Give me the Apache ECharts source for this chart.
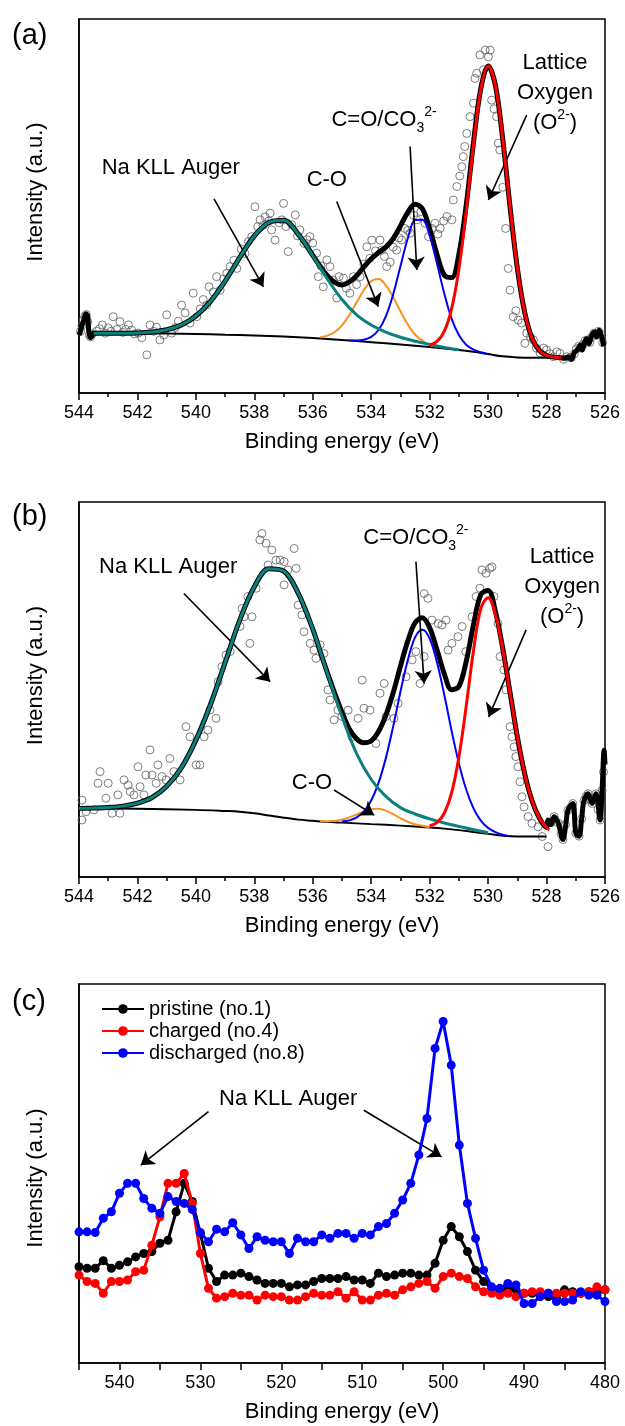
<!DOCTYPE html>
<html>
<head>
<meta charset="utf-8">
<title>XPS O 1s spectra</title>
<script src="https://cdn.jsdelivr.net/npm/echarts@6.0.0/dist/echarts.min.js"></script>
<style>
html,body{margin:0;padding:0;background:#ffffff;}
#chart{width:625px;height:1426px;}
</style>
</head>
<body>
<div id="chart"></div>
<script>
const FONT = '"Liberation Sans", Arial, Helvetica, sans-serif';

// ================= Panel (a) =================
const abTickLabels = [526, 528, 530, 532, 534, 536, 538, 540, 542, 544];

const aPoints = [
[543.95,16.5],[543.9,18.0],[543.85,19.5],[543.8,20.5],[543.75,21.0],[543.7,19.0],[543.65,15.5],[543.6,15.0],[543.55,15.8],
[543.4,16.5],[543.3,17.2],[543.2,18.2],[543.1,16.0],[543.0,17.4],[542.9,16.5],[542.83,20.4],[542.7,17.0],[542.6,19.1],[542.5,16.2],
[542.4,17.0],[542.31,18.2],[542.2,16.8],[542.1,15.8],[541.97,16.0],[541.85,14.8],[541.68,10.2],[541.57,18.2],[541.45,16.5],[541.35,17.6],
[541.23,14.2],[541.1,15.5],[541.0,20.9],[540.83,16.0],[540.7,17.5],[540.6,19.2],[540.49,23.5],[540.37,21.4],[540.2,18.7],[540.09,26.7],
[539.97,20.4],[539.85,22.5],[539.75,25.0],[539.63,23.5],[539.55,28.4],[539.4,27.0],[539.29,31.1],[539.17,27.5],[539.05,30.5],[538.94,32.0],
[538.83,33.8],[538.7,35.5],[538.6,33.3],[538.45,38.5],[538.32,37.3],[538.2,40.5],[538.09,41.8],[537.98,49.8],[537.88,44.5],[537.8,46.3],
[537.7,44.8],[537.63,47.1],[537.5,46.0],[537.46,48.1],[537.41,43.6],[537.29,40.9],[537.15,45.5],[537.06,46.3],[537.0,50.7],[536.92,44.5],
[536.84,37.8],[536.72,45.0],[536.6,47.6],[536.52,42.0],[536.44,43.6],[536.3,40.0],[536.2,41.0],[536.1,41.8],[536.0,40.1],[535.87,37.4],
[535.81,31.1],[535.72,34.0],[535.64,28.4],[535.52,35.6],[535.41,33.8],[535.3,30.2],[535.18,25.4],[535.1,31.1],[534.95,30.7],[534.85,28.0],
[534.73,26.7],[534.61,31.1],[534.5,29.0],[534.38,31.1],[534.25,34.5],[534.15,39.1],[534.05,36.0],[533.98,40.9],[533.85,38.0],[533.7,40.9],
[533.64,38.2],[533.55,36.5],[533.47,33.8],[533.35,35.0],[533.25,39.0],[533.13,38.2],[533.05,41.5],[532.96,40.9],[532.85,44.0],[532.75,43.5],
[532.67,42.7],[532.55,47.5],[532.44,46.3],[532.3,48.5],[532.16,45.4],[532.04,41.8],[531.92,44.0],[531.82,45.4],[531.72,42.5],[531.64,44.0],
[531.52,46.0],[531.41,47.2],[531.24,46.3],[531.19,51.6],[531.07,55.2],[530.97,58.0],[530.9,60.5],[530.85,63.2],[530.8,65.9],[530.73,69.4],
[530.62,73.9],[530.5,77.5],[530.45,84.1],[530.39,85.5],[530.28,90.4],[530.16,86.4],[530.1,91.7],[529.99,89.9],[529.93,91.7],[529.88,78.3],
[529.8,76.0],[529.71,73.9],[529.65,66.8],[529.6,65.0],[529.5,55.0],[529.4,44.0],[529.31,33.3],[529.25,27.5],[529.14,20.4],[529.05,22.0],
[528.97,19.5],[528.85,18.7],[528.74,13.3],[528.68,16.0],[528.55,15.0],[528.45,14.2],[528.35,12.0],[528.22,10.7],[528.1,12.0],[528.0,11.5],
[527.88,10.5],[527.77,9.7],[527.65,11.0],[527.54,10.6],[527.42,9.0],[527.31,9.7],[527.2,9.5],
[527.15,9.5],[527.05,10.5],[526.98,11.8],[526.9,12.5],[526.82,12.0],[526.75,13.0],[526.68,14.0],[526.6,14.2],[526.52,13.5],[526.45,15.0],
[526.38,16.0],[526.3,15.5],[526.22,16.5],[526.15,15.8],[526.08,13.5]
];

const aBaseline = [[543.6,16.0],[543,16.0],[542,16.0],[541,15.9],[540,15.8],[539,15.6],[538,15.4],[537,15.1],[536,14.7],[535,14.2],
[534,13.6],[533,13.0],[532,12.3],[531,11.5],[530.5,11.0],[530,10.4],[529.5,9.8],[529,9.5],[528.5,9.4],[527.5,9.4],[527.2,9.4]];

const aEnvelope = [[544,15.5],[543.95,16.5],[543.88,18.5],[543.82,20.0],[543.76,21.2],[543.7,20.5],[543.66,16.0],[543.6,14.8],[543.55,15.3],
[543.5,16.0],[543,16.0],[542.5,16.0],[542,16.05],[541.5,16.3],[541,16.9],[540.5,18.2],[540,20.6],[539.5,24.5],[539,29.9],[538.5,36.2],
[538,42.0],[537.5,45.6],[537,46.2],[536.5,42.5],[536,36.8],[535.75,33.9],[535.5,31.35],[535.25,29.6],[535,28.9],[534.75,29.7],[534.5,31.35],
[534.25,33.75],[534,35.9],[533.75,37.55],[533.5,39.0],[533.25,41.25],[533,44.65],[532.75,48.3],[532.5,50.45],[532.25,49.25],[532,43.9],
[531.75,37.05],[531.5,31.5],[531.25,30.85],[531,37.1],[530.75,50.2],[530.5,67.0],[530.25,81.4],[530,87.4],[529.75,82.2],[529.5,67.9],
[529.25,49.8],[529,33.4],[528.75,21.65],[528.5,14.7],[528.25,11.4],[528,10.05],[527.75,9.6],[527.5,9.4],[527.4,9.3],[527.25,9.6],
[527.15,9.0],[527.05,10.8],[526.95,11.5],[526.85,12.8],[526.78,11.5],[526.7,13.6],[526.62,14.5],[526.55,13.2],[526.45,15.5],[526.35,16.3],
[526.28,15.0],[526.2,16.8],[526.12,15.2],[526.05,12.5]];

const aNaKLL = [[543.5,16.0],[543,16.0],[542.5,16.0],[542,16.05],[541.5,16.3],[541,16.9],[540.5,18.2],[540,20.6],[539.5,24.5],[539,29.9],
[538.5,36.2],[538,42.0],[537.5,45.6],[537,46.2],[536.5,42.5],[536,36.7],[535.5,30.45],[535,25.0],[534.5,20.9],[534,18.2],[533.5,16.3],
[533,14.9],[532.5,13.85],[532,13.0],[531.5,12.2],[531,11.55]];

const aCO = [[535.75,14.9],[535.5,15.35],[535.25,16.3],[535,18.1],[534.75,20.85],[534.5,24.2],[534.25,27.55],[534,29.9],[533.75,30.45],
[533.5,28.8],[533.25,25.65],[533,21.85],[532.75,18.3],[532.5,15.65],[532.25,13.95],[532,12.9],[531.75,12.35]];

const aCdO = [[534.75,14.05],[534.5,14.05],[534.25,14.25],[534,15.0],[533.75,16.85],[533.5,20.5],[533.25,26.35],[533,33.9],[532.75,41.3],
[532.5,46.25],[532.25,46.35],[532,42.1],[531.75,34.6],[531.5,26.6],[531.25,19.9],[531,15.5],[530.75,12.9],[530.5,11.6],[530.25,10.9],[530,10.4]];

const aLattice = [[532,12.8],[531.75,13.8],[531.5,16.5],[531.25,22.5],[531,33.1],[530.75,48.55],[530.5,66.4],[530.25,81.2],[530,87.4],
[529.75,82.2],[529.5,67.9],[529.25,49.8],[529,33.4],[528.75,21.65],[528.5,14.7],[528.25,11.4],[528,10.05],[527.75,9.6],[527.5,9.4]];

const aArrows = [[[539.38,51.9],[537.69,28.4]],[[535.18,51.2],[533.76,23.1]],[[532.67,65.9],[532.44,32.9]],[[528.68,74.3],[529.99,51.6]]];
const aLabels = [
  {text:'Na KLL Auger', at:[540.86,60.1]},
  {text:'C-O', at:[535.52,57.0]},
  {text:'C=O/CO{sub|3}{sup|2-}', at:[533.56,73.0]},
  {text:'Lattice\nOxygen\n(O{sup|2-})', at:[527.71,80.3]}
];

// ================= Panel (b) =================
const bPoints = [
[543.9,20.5],[543.9,15.2],[543.76,17.4],[543.49,17.9],[543.35,25.0],[543.28,28.1],[543.08,21.0],[543.0,25.0],[542.87,17.0],[542.67,21.9],
[542.6,17.0],[542.46,25.9],[542.32,24.5],[542.25,22.8],[542.12,21.9],[541.98,29.4],[541.91,24.1],[541.78,21.9],[541.71,27.2],[541.57,33.9],
[541.5,27.2],[541.36,25.0],[541.3,29.9],[541.16,26.8],[541.02,25.9],[540.89,31.6],[540.75,28.1],[540.54,25.9],[540.34,40.1],[540.2,37.4],
[539.99,29.9],[539.86,29.9],[539.72,37.4],[539.59,39.2],[539.52,44.5],[539.31,42.3],[539.24,52.1],[539.11,56.1],[538.97,59.2],[538.83,60.1],
[538.49,66.8],[538.42,71.6],[538.35,69.4],[538.22,74.8],[538.15,62.3],[538.08,69.4],[537.94,77.0],[537.81,89.9],[537.74,91.6],[537.6,89.0],
[537.53,83.2],[537.4,87.2],[537.26,84.5],[537.12,84.5],[536.98,84.1],[536.98,77.9],[536.85,81.9],[536.64,87.6],[536.57,82.3],[536.5,72.5],
[536.37,69.9],[536.3,65.4],[536.09,62.3],[535.96,60.5],[535.89,58.3],[535.75,61.9],[535.62,59.6],[535.48,49.9],[535.41,47.2],[535.27,41.9],
[535.14,44.5],[535.0,42.8],[534.79,44.5],[534.66,37.4],[534.45,42.3],[534.31,52.5],[534.25,45.0],[534.04,44.5],[533.84,35.6],[533.7,49.0],
[533.56,51.6],[533.49,42.8],[533.22,42.3],[533.08,46.3],[532.81,53.4],[532.6,57.9],[532.47,60.1],[532.33,51.6],[532.19,75.6],[532.06,74.3],
[532.19,58.8],[531.92,68.5],[531.71,67.6],[531.58,67.2],[531.44,68.5],[531.37,60.5],[531.24,62.3],[531.03,64.1],[530.89,66.8],[530.76,60.1],
[530.55,69.4],[530.41,74.8],[530.28,77.0],[530.21,81.9],[530.07,81.0],[529.94,82.3],[529.87,82.7],[529.8,74.8],[529.66,67.6],[529.59,58.8],
[529.46,55.2],[529.39,49.9],[529.25,40.1],[529.18,37.4],[529.11,34.7],[529.05,32.1],[528.98,29.4],[528.91,25.4],[528.84,21.4],[528.77,18.7],
[528.63,16.1],[528.5,14.3],[528.29,13.4],[528.15,10.8],[527.95,8.1],
[527.85,14.5],[527.74,16.1],[527.6,14.4],[527.5,11.5],[527.44,10.0],[527.35,14.0],[527.27,17.8],[527.18,18.5],[527.1,19.6],[527.0,11.7],
[526.89,10.9],[526.8,15.5],[526.72,20.4],[526.65,21.5],[526.58,22.2],[526.5,20.5],[526.44,19.6],[526.38,21.0],[526.31,22.2],[526.24,18.0],
[526.17,15.2],[526.1,23.1],[526.05,28.0]
];

const bBaseline = [[544,18.3],[542,18.2],[540,17.9],[539,17.6],[538.5,17.4],[538,17.0],[537.5,16.4],[537,15.8],[536.5,15.3],[536,15.0],
[535.5,14.7],[535,14.5],[534,14.1],[533,13.7],[532,13.2],[531.5,12.9],[531,12.5],[530.5,12.0],[530,11.5],[529.5,11.0],[529,10.8],[528,10.8]];

const bEnvelope = [[544,18.3],[543.5,18.4],[543,18.55],[542.5,18.9],[542,19.7],[541.5,21.2],[541,24.2],[540.5,29.1],[540,36.5],[539.5,46.0],
[539,57.2],[538.5,68.5],[538,77.4],[537.5,82.2],[537,81.6],[536.5,75.7],[536,66.1],[535.75,60.2],[535.5,54.45],[535.25,49.0],[535,43.9],
[534.75,39.5],[534.5,36.85],[534.25,35.8],[534,36.3],[533.75,38.8],[533.5,43.1],[533.25,49.1],[533,56.2],[532.75,62.9],[532.5,67.8],
[532.25,69.15],[532,66.45],[531.75,60.6],[531.5,54.2],[531.25,49.95],[531,50.8],[530.75,57.45],[530.5,67.3],[530.25,75.3],[530,76.4],
[529.75,70.8],[529.5,61.0],[529.25,49.2],[529,37.4],[528.75,27.6],[528.5,20.4],[528.25,15.8],[528,13.2],
[527.95,15.2],[527.85,14.0],[527.74,16.1],[527.6,14.4],[527.44,10.0],[527.35,13.5],[527.27,17.8],[527.1,19.6],[527.0,11.7],[526.89,10.9],
[526.8,15.5],[526.72,20.4],[526.58,22.2],[526.44,19.6],[526.31,22.2],[526.17,15.2],[526.1,23.1],[526.03,33.8],[526.0,30.0]];

const bNaKLL = [[544,18.3],[543.5,18.4],[543,18.55],[542.5,18.9],[542,19.7],[541.5,21.2],[541,24.2],[540.5,29.1],[540,36.5],[539.5,46.0],
[539,57.2],[538.5,68.5],[538,77.4],[537.5,82.2],[537,81.6],[536.5,75.7],[536,66.1],[535.5,54.3],[535,42.8],[534.5,32.9],[534,26.0],
[533.5,21.5],[533,18.5],[532.5,16.8],[532,15.5],[531.5,14.4],[531,13.5],[530.5,12.6],[530,11.8]];

const bCO = [[535.75,14.85],[535.5,14.85],[535,15.3],[534.5,16.65],[534.25,17.5],[534,18.1],[533.75,18.2],[533.5,17.7],[533.25,16.75],
[533,15.67],[532.75,14.74],[532.5,14.07],[532,13.29]];

const bCdO = [[535,14.8],[534.75,15.1],[534.5,15.9],[534.25,17.5],[534,20.4],[533.75,25.1],[533.5,31.7],[533.25,40.1],[533,49.4],
[532.75,57.8],[532.5,63.9],[532.25,65.95],[532,63.6],[531.75,57.25],[531.5,48.6],[531.25,39.0],[531,30.3],[530.75,23.35],[530.5,18.3],
[530.25,15.05],[530,13.1],[529.75,11.95],[529.5,11.3],[529.25,10.9]];

const bLattice = [[532,13.65],[531.75,14.5],[531.5,17.0],[531.25,22.4],[531,32.0],[530.75,45.55],[530.5,60.4],[530.25,71.55],[530,74.5],
[529.75,69.95],[529.5,60.7],[529.25,49.1],[529,37.4],[528.75,27.6],[528.5,20.4],[528.25,15.8],[528,13.2],[527.9,12.6]];

const bArrows = [[[540.41,75.6],[537.46,52.1]],[[532.47,84.1],[532.19,51.6]],[[528.7,65.9],[529.98,42.7]],[[535.27,23.2],[533.9,16.5]]];
const bLabels = [
  {text:'Na KLL Auger', at:[540.95,82.8]},
  {text:'C=O/CO{sub|3}{sup|2-}', at:[532.47,90.3]},
  {text:'Lattice\nOxygen\n(O{sup|2-})', at:[527.47,77.4]},
  {text:'C-O', at:[536.03,25.0]}
];

// ================= Panel (c) =================
const cTickLabels = [480, 490, 500, 510, 520, 530, 540];
const cEnergy = [545,544,543,542,541,540,539,538,537,536,535,534,533,532,531,530,529,528,527,526,525,524,523,522,521,520,
519,518,517,516,515,514,513,512,511,510,509,508,507,506,505,504,503,502,501,500,499,498,497,496,495,494,493,492,491,490,
489,488,487,486,485,484,483,482,481,480];
const cPristine = [25.4,25.0,25.0,27.0,25.0,25.8,26.7,28.0,28.9,29.4,31.6,32.4,39.9,47.4,42.6,34.2,25.0,21.5,23.2,23.2,23.7,22.8,
21.9,21.0,21.0,21.0,20.1,20.6,20.6,21.5,22.3,22.3,22.3,22.8,21.9,21.9,21.0,23.7,22.8,23.2,23.7,23.7,23.2,23.2,26.3,32.4,36.0,33.3,
29.4,24.5,21.5,19.7,19.3,19.7,19.3,18.4,18.4,17.9,17.5,17.1,19.3,18.8,18.4,18.8,18.4,19.3];
const cCharged = [23.2,21.5,21.0,18.4,21.5,21.5,21.9,24.1,24.5,31.1,38.6,47.4,47.4,50.0,42.1,28.9,19.7,17.1,17.5,18.4,17.9,17.9,
16.6,17.9,17.5,17.5,16.6,16.6,17.5,18.4,17.9,17.9,18.8,17.1,18.8,16.6,16.6,17.9,18.4,17.9,19.3,20.1,21.0,21.5,19.7,22.8,23.7,22.8,
22.3,20.1,18.8,18.4,17.9,18.4,17.5,18.4,18.8,18.8,18.4,18.4,18.4,18.4,18.4,18.8,20.1,19.3];
const cDischarged = [34.6,34.6,34.4,38.2,39.9,44.8,47.4,47.4,43.4,40.8,39.5,43.9,42.6,42.1,40.5,34.4,32.0,35.3,34.6,37.0,33.8,30.2,
33.3,32.4,32.0,32.0,28.9,32.9,32.0,32.0,33.8,32.9,34.2,34.2,32.9,34.2,33.8,36.0,36.8,39.5,43.0,47.4,54.9,64.5,83.0,90.1,78.6,57.5,
42.1,32.9,24.5,20.1,19.7,21.0,20.6,15.7,15.7,17.5,18.4,16.2,16.2,16.6,18.8,17.9,17.9,16.2];
const cSeriesNames = ['pristine (no.1)', 'charged (no.4)', 'discharged (no.8)'];
const cArrows = [[[529.0,66.3],[537.37,52.2]],[[509.8,66.7],[500.2,54.4]]];
const cLabels = [{text:'Na KLL Auger', at:[519.15,69.6]}];

// ================= Styling / option building =================
const RICH = {
  sub:{fontSize:14, fontFamily:FONT, color:'#000', verticalAlign:'bottom', lineHeight:14},
  sup:{fontSize:14, fontFamily:FONT, color:'#000', verticalAlign:'top', lineHeight:14}
};

function makeX(gi, min, max, interval, minorSplit, labels){
  return {
    type:'value', gridIndex:gi, inverse:true, min:min, max:max, interval:interval,
    name:'Binding energy (eV)', nameLocation:'middle', nameGap:38,
    nameTextStyle:{color:'#000', fontSize:22, fontFamily:FONT},
    axisLine:{show:true, onZero:false, lineStyle:{color:'#000', width:1.5}},
    axisTick:{show:true, inside:false, length:7, lineStyle:{color:'#000', width:1.5}},
    minorTick:{show:minorSplit > 0, splitNumber:minorSplit > 0 ? minorSplit : 2, length:4, lineStyle:{color:'#000', width:1.5}},
    axisLabel:{show:true, margin:11, color:'#000', fontSize:18, fontFamily:FONT, hideOverlap:false,
      formatter:function(v){ return labels.indexOf(Math.round(v)) >= 0 && Math.abs(v - Math.round(v)) < 1e-6 ? String(Math.round(v)) : ''; }},
    splitLine:{show:false}, minorSplitLine:{show:false}
  };
}
function makeY(gi, pad){
  return {
    type:'value', gridIndex:gi, min:0, max:100,
    name:'Intensity (a.u.)', nameLocation:'middle', nameGap:32, nameRotate:90,
    nameTextStyle:{color:'#000', fontSize:22, fontFamily:FONT, padding:pad},
    axisLine:{show:true, onZero:false, lineStyle:{color:'#000', width:1.5}},
    axisTick:{show:false}, axisLabel:{show:false}, splitLine:{show:false}
  };
}
function fitLine(gi, data, color, width, z){
  return {type:'line', xAxisIndex:gi, yAxisIndex:gi, data:data, smooth:0.35, showSymbol:false, symbol:'none',
    lineStyle:{color:color, width:width}, itemStyle:{color:color}, z:z, silent:true, animation:false,
    emphasis:{disabled:true}};
}
function points(gi, data){
  return {type:'scatter', xAxisIndex:gi, yAxisIndex:gi, data:data, symbol:'circle', symbolSize:8,
    itemStyle:{color:'rgba(255,255,255,0)', borderColor:'#5e5e5e', borderWidth:1}, z:1, silent:true, animation:false,
    emphasis:{disabled:true}};
}
function withNotes(series, arrows, labels){
  series.markLine = {
    silent:true, symbol:['none','arrow'], symbolSize:13, animation:false,
    label:{show:false}, emphasis:{disabled:true},
    lineStyle:{color:'#000', width:1.6, type:'solid'},
    data: arrows.map(function(a){ return [{coord:a[0]}, {coord:a[1]}]; })
  };
  series.markPoint = {
    silent:true, symbol:'circle', symbolSize:1, animation:false,
    itemStyle:{color:'rgba(0,0,0,0)'},
    label:{show:true, position:'inside', color:'#000', fontSize:22, fontFamily:FONT, lineHeight:30,
      formatter:function(p){ return p.name; }, rich:RICH},
    emphasis:{disabled:true},
    data: labels.map(function(l){ return {name:l.text, coord:l.at}; })
  };
  return series;
}

const TEAL = '#0a817d', ORANGE = '#f7931e', BLUE = '#0000ff', RED = '#ff0000';

const series = [];
// (a)
series.push(points(0, aPoints));
series.push(withNotes(fitLine(0, aBaseline, '#000', 2, 2), aArrows, aLabels));
series.push(fitLine(0, aEnvelope, '#000', 5, 3));
series.push(fitLine(0, aCO, ORANGE, 2, 4));
series.push(fitLine(0, aCdO, BLUE, 2, 4));
series.push(fitLine(0, aNaKLL, TEAL, 3, 5));
series.push(fitLine(0, aLattice, RED, 3, 5));
// (b)
series.push(points(1, bPoints));
series.push(withNotes(fitLine(1, bBaseline, '#000', 2, 2), bArrows, bLabels));
series.push(fitLine(1, bEnvelope, '#000', 5, 3));
series.push(fitLine(1, bCO, ORANGE, 2, 4));
series.push(fitLine(1, bCdO, BLUE, 2, 4));
series.push(fitLine(1, bNaKLL, TEAL, 3, 5));
series.push(fitLine(1, bLattice, RED, 3, 5));
// (c)
const cData = [cPristine, cCharged, cDischarged];
const cColors = ['#000000', '#ff0000', '#0000ff'];
cData.forEach(function(vals, k){
  const s = {
    type:'line', name:cSeriesNames[k], xAxisIndex:2, yAxisIndex:2,
    data: cEnergy.map(function(e, i){ return [e, vals[i]]; }),
    symbol:'circle', symbolSize:9, showSymbol:true, smooth:false,
    lineStyle:{color:cColors[k], width:3}, itemStyle:{color:cColors[k]},
    z:3 + k, silent:true, animation:false, emphasis:{disabled:true}
  };
  if (k === 0) withNotes(s, cArrows, cLabels);
  series.push(s);
});

const option = {
  backgroundColor:'#ffffff',
  animation:false,
  textStyle:{fontFamily:FONT},
  grid:[
    {left:79, right:20, top:19, height:374, show:true, borderColor:'#000', borderWidth:1.5, containLabel:false, outerBoundsMode:'none'},
    {left:79, right:20, top:502, height:375, show:true, borderColor:'#000', borderWidth:1.5, containLabel:false, outerBoundsMode:'none'},
    {left:79, right:20, top:984, height:379, show:true, borderColor:'#000', borderWidth:1.5, containLabel:false, outerBoundsMode:'none'}
  ],
  xAxis:[
    makeX(0, 526, 544, 2, 2, abTickLabels),
    makeX(1, 526, 544, 2, 2, abTickLabels),
    makeX(2, 480, 545, 5, 0, cTickLabels)
  ],
  yAxis:[
    makeY(0, [0,0,0,28]),
    makeY(1, [0,0,0,28]),
    makeY(2, [0,9,0,0])
  ],
  legend:{
    show:true, orient:'vertical', left:96, top:994, itemWidth:42, itemHeight:12, itemGap:2,
    selectedMode:false, data:cSeriesNames,
    textStyle:{color:'#000', fontSize:20, fontFamily:FONT}
  },
  graphic:[
    {type:'text', left:12, top:21, style:{text:'(a)', fontSize:29, fontFamily:FONT, fill:'#000'}},
    {type:'text', left:12, top:502, style:{text:'(b)', fontSize:29, fontFamily:FONT, fill:'#000'}},
    {type:'text', left:12, top:987, style:{text:'(c)', fontSize:29, fontFamily:FONT, fill:'#000'}}
  ],
  series:series
};

const chart = echarts.init(document.getElementById('chart'), null, {renderer:'canvas', width:625, height:1426});
chart.setOption(option);
</script>
</body>
</html>
